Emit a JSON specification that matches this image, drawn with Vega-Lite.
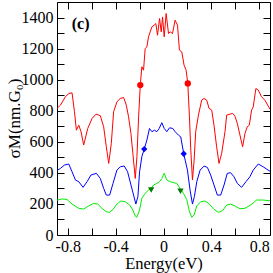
{
  "$schema": "https://vega.github.io/schema/vega-lite/v6.json",
  "width": 213,
  "height": 233,
  "autosize": "none",
  "padding": {"left": 57, "top": 2, "right": 3, "bottom": 38},
  "background": "white",
  "config": {
    "view": {"stroke": "black", "strokeWidth": 1},
    "axis": {"domain": false, "grid": false, "tickColor": "black", "tickSize": -7, "tickWidth": 1,
             "labelFont": "Liberation Serif", "labelFontSize": 16, "labelColor": "black",
             "titleFont": "Liberation Serif", "titleFontSize": 16.5, "titleColor": "black", "titleFontWeight": "normal"}
  },
  "datasets": {
    "curves": [
      {"s":"red","x":-0.89,"y":815},{"s":"red","x":-0.861,"y":836},{"s":"red","x":-0.82,"y":890},{"s":"red","x":-0.79,"y":911},{"s":"red","x":-0.764,"y":915},{"s":"red","x":-0.744,"y":793},{"s":"red","x":-0.728,"y":675},{"s":"red","x":-0.708,"y":707},{"s":"red","x":-0.689,"y":665},{"s":"red","x":-0.667,"y":579},{"s":"red","x":-0.633,"y":686},{"s":"red","x":-0.597,"y":750},{"s":"red","x":-0.564,"y":778},{"s":"red","x":-0.528,"y":768},{"s":"red","x":-0.5,"y":697},{"s":"red","x":-0.478,"y":568},{"s":"red","x":-0.458,"y":461},{"s":"red","x":-0.436,"y":590},{"s":"red","x":-0.417,"y":793},{"s":"red","x":-0.389,"y":858},{"s":"red","x":-0.361,"y":879},{"s":"red","x":-0.333,"y":885},{"s":"red","x":-0.311,"y":836},{"s":"red","x":-0.292,"y":761},{"s":"red","x":-0.272,"y":654},{"s":"red","x":-0.256,"y":525},{"s":"red","x":-0.236,"y":364},{"s":"red","x":-0.222,"y":504},{"s":"red","x":-0.208,"y":761},{"s":"red","x":-0.194,"y":965},{"s":"red","x":-0.181,"y":1083},{"s":"red","x":-0.167,"y":1061},{"s":"red","x":-0.153,"y":1201},{"s":"red","x":-0.139,"y":1211},{"s":"red","x":-0.125,"y":1276},{"s":"red","x":-0.111,"y":1308},{"s":"red","x":-0.097,"y":1340},{"s":"red","x":-0.078,"y":1351},{"s":"red","x":-0.064,"y":1361},{"s":"red","x":-0.05,"y":1286},{"s":"red","x":-0.033,"y":1394},{"s":"red","x":-0.019,"y":1308},{"s":"red","x":-0.008,"y":1404},{"s":"red","x":0.006,"y":1276},{"s":"red","x":0.022,"y":1426},{"s":"red","x":0.042,"y":1297},{"s":"red","x":0.056,"y":1308},{"s":"red","x":0.075,"y":1297},{"s":"red","x":0.097,"y":1383},{"s":"red","x":0.117,"y":1351},{"s":"red","x":0.133,"y":1190},{"s":"red","x":0.153,"y":1179},{"s":"red","x":0.172,"y":1093},{"s":"red","x":0.189,"y":1061},{"s":"red","x":0.203,"y":976},{"s":"red","x":0.217,"y":761},{"s":"red","x":0.228,"y":547},{"s":"red","x":0.242,"y":354},{"s":"red","x":0.256,"y":482},{"s":"red","x":0.269,"y":665},{"s":"red","x":0.292,"y":772},{"s":"red","x":0.319,"y":868},{"s":"red","x":0.339,"y":879},{"s":"red","x":0.361,"y":868},{"s":"red","x":0.381,"y":815},{"s":"red","x":0.403,"y":804},{"s":"red","x":0.422,"y":707},{"s":"red","x":0.444,"y":568},{"s":"red","x":0.464,"y":461},{"s":"red","x":0.486,"y":525},{"s":"red","x":0.514,"y":665},{"s":"red","x":0.528,"y":772},{"s":"red","x":0.556,"y":778},{"s":"red","x":0.578,"y":783},{"s":"red","x":0.597,"y":765},{"s":"red","x":0.617,"y":718},{"s":"red","x":0.639,"y":643},{"s":"red","x":0.661,"y":568},{"s":"red","x":0.681,"y":654},{"s":"red","x":0.7,"y":697},{"s":"red","x":0.717,"y":707},{"s":"red","x":0.736,"y":804},{"s":"red","x":0.75,"y":825},{"s":"red","x":0.772,"y":943},{"s":"red","x":0.792,"y":933},{"s":"red","x":0.819,"y":890},{"s":"red","x":0.847,"y":868},{"s":"red","x":0.89,"y":810},
      {"s":"blue","x":-0.89,"y":415},{"s":"blue","x":-0.861,"y":429},{"s":"blue","x":-0.828,"y":450},{"s":"blue","x":-0.792,"y":457},{"s":"blue","x":-0.764,"y":407},{"s":"blue","x":-0.736,"y":354},{"s":"blue","x":-0.708,"y":343},{"s":"blue","x":-0.672,"y":307},{"s":"blue","x":-0.639,"y":343},{"s":"blue","x":-0.606,"y":386},{"s":"blue","x":-0.561,"y":397},{"s":"blue","x":-0.528,"y":364},{"s":"blue","x":-0.5,"y":300},{"s":"blue","x":-0.478,"y":257},{"s":"blue","x":-0.45,"y":257},{"s":"blue","x":-0.422,"y":332},{"s":"blue","x":-0.389,"y":418},{"s":"blue","x":-0.361,"y":439},{"s":"blue","x":-0.328,"y":444},{"s":"blue","x":-0.3,"y":407},{"s":"blue","x":-0.272,"y":322},{"s":"blue","x":-0.25,"y":257},{"s":"blue","x":-0.231,"y":199},{"s":"blue","x":-0.214,"y":247},{"s":"blue","x":-0.2,"y":407},{"s":"blue","x":-0.181,"y":504},{"s":"blue","x":-0.161,"y":553},{"s":"blue","x":-0.139,"y":611},{"s":"blue","x":-0.117,"y":686},{"s":"blue","x":-0.097,"y":665},{"s":"blue","x":-0.075,"y":675},{"s":"blue","x":-0.056,"y":665},{"s":"blue","x":-0.036,"y":686},{"s":"blue","x":-0.014,"y":723},{"s":"blue","x":0.006,"y":686},{"s":"blue","x":0.028,"y":665},{"s":"blue","x":0.05,"y":690},{"s":"blue","x":0.078,"y":686},{"s":"blue","x":0.097,"y":665},{"s":"blue","x":0.125,"y":643},{"s":"blue","x":0.144,"y":632},{"s":"blue","x":0.169,"y":523},{"s":"blue","x":0.181,"y":482},{"s":"blue","x":0.2,"y":418},{"s":"blue","x":0.222,"y":289},{"s":"blue","x":0.242,"y":199},{"s":"blue","x":0.258,"y":247},{"s":"blue","x":0.278,"y":343},{"s":"blue","x":0.306,"y":418},{"s":"blue","x":0.339,"y":444},{"s":"blue","x":0.367,"y":435},{"s":"blue","x":0.394,"y":386},{"s":"blue","x":0.422,"y":322},{"s":"blue","x":0.45,"y":257},{"s":"blue","x":0.478,"y":257},{"s":"blue","x":0.506,"y":322},{"s":"blue","x":0.533,"y":397},{"s":"blue","x":0.561,"y":401},{"s":"blue","x":0.589,"y":375},{"s":"blue","x":0.617,"y":332},{"s":"blue","x":0.653,"y":307},{"s":"blue","x":0.689,"y":343},{"s":"blue","x":0.722,"y":375},{"s":"blue","x":0.75,"y":418},{"s":"blue","x":0.792,"y":457},{"s":"blue","x":0.833,"y":439},{"s":"blue","x":0.89,"y":410},
      {"s":"green","x":-0.89,"y":225},{"s":"green","x":-0.847,"y":232},{"s":"green","x":-0.806,"y":229},{"s":"green","x":-0.764,"y":199},{"s":"green","x":-0.708,"y":172},{"s":"green","x":-0.667,"y":167},{"s":"green","x":-0.625,"y":187},{"s":"green","x":-0.583,"y":204},{"s":"green","x":-0.55,"y":199},{"s":"green","x":-0.514,"y":172},{"s":"green","x":-0.478,"y":150},{"s":"green","x":-0.45,"y":146},{"s":"green","x":-0.422,"y":165},{"s":"green","x":-0.389,"y":199},{"s":"green","x":-0.356,"y":219},{"s":"green","x":-0.319,"y":214},{"s":"green","x":-0.283,"y":193},{"s":"green","x":-0.256,"y":161},{"s":"green","x":-0.236,"y":122},{"s":"green","x":-0.222,"y":114},{"s":"green","x":-0.2,"y":161},{"s":"green","x":-0.181,"y":236},{"s":"green","x":-0.153,"y":268},{"s":"green","x":-0.125,"y":289},{"s":"green","x":-0.103,"y":300},{"s":"green","x":-0.083,"y":322},{"s":"green","x":-0.056,"y":332},{"s":"green","x":-0.033,"y":343},{"s":"green","x":-0.014,"y":364},{"s":"green","x":0.006,"y":397},{"s":"green","x":0.028,"y":354},{"s":"green","x":0.056,"y":343},{"s":"green","x":0.083,"y":337},{"s":"green","x":0.111,"y":332},{"s":"green","x":0.139,"y":300},{"s":"green","x":0.167,"y":268},{"s":"green","x":0.194,"y":229},{"s":"green","x":0.217,"y":150},{"s":"green","x":0.236,"y":114},{"s":"green","x":0.256,"y":129},{"s":"green","x":0.278,"y":187},{"s":"green","x":0.311,"y":214},{"s":"green","x":0.347,"y":219},{"s":"green","x":0.383,"y":199},{"s":"green","x":0.422,"y":165},{"s":"green","x":0.458,"y":146},{"s":"green","x":0.494,"y":157},{"s":"green","x":0.528,"y":193},{"s":"green","x":0.561,"y":199},{"s":"green","x":0.597,"y":187},{"s":"green","x":0.639,"y":169},{"s":"green","x":0.681,"y":172},{"s":"green","x":0.728,"y":193},{"s":"green","x":0.778,"y":225},{"s":"green","x":0.833,"y":225},{"s":"green","x":0.89,"y":220}
    ],
    "markers": [
      {"s":"red","x":-0.194,"y":965},{"s":"red","x":0.203,"y":976},
      {"s":"blue","x":-0.161,"y":553},{"s":"blue","x":0.169,"y":523},
      {"s":"green","x":-0.103,"y":290},{"s":"green","x":0.142,"y":282}
    ],
    "label": [{"x":-0.693,"y":1357,"t":"(c)"}]
  },
  "layer": [
    {
      "data": {"name": "curves"},
      "mark": {"type": "line", "strokeWidth": 1, "clip": true},
      "encoding": {
        "x": {"field": "x", "type": "quantitative", "scale": {"domain": [-0.89, 0.89], "nice": false, "zero": false},
              "axis": {"orient": "bottom", "title": "Energy(eV)", "values": [-0.8,-0.6,-0.4,-0.2,0,0.2,0.4,0.6,0.8],
                       "labelExpr": "round(datum.value*10)%4===0 ? toString(datum.value) : ''", "labelPadding": 10,
                       "titleY": 33, "titleBaseline": "alphabetic"}},
        "y": {"field": "y", "type": "quantitative", "scale": {"domain": [0, 1500], "nice": false},
              "axis": {"orient": "left", "title": "σM(nm.G₀)", "values": [0,100,200,300,400,500,600,700,800,900,1000,1100,1200,1300,1400,1500],
                       "labelExpr": "datum.value%200===0 ? datum.label : ''", "labelPadding": 11, "format": "d",
                       "titleFontSize": 17, "titleX": -43, "titleY": 116, "titleBaseline": "middle", "titleAlign": "center", "titleAngle": -90}},
        "color": {"field": "s", "type": "nominal", "scale": {"domain": ["red","blue","green"], "range": ["#ff0000","#0000ff","#00ee00"]}, "legend": null},
        "detail": {"field": "s"}
      }
    },
    {
      "data": {"name": "markers"},
      "mark": {"type": "point", "filled": true, "opacity": 1},
      "encoding": {
        "x": {"field": "x", "type": "quantitative", "axis": {"orient": "top", "title": null, "labels": false, "values": [-0.8,-0.6,-0.4,-0.2,0,0.2,0.4,0.6,0.8]}},
        "y": {"field": "y", "type": "quantitative", "axis": {"orient": "right", "title": null, "labels": false, "values": [0,100,200,300,400,500,600,700,800,900,1000,1100,1200,1300,1400,1500]}},
        "shape": {"field": "s", "type": "nominal", "scale": {"domain": ["red","blue","green"], "range": ["circle","diamond","triangle-down"]}, "legend": null},
        "color": {"field": "s", "type": "nominal", "scale": {"domain": ["red","blue","green"], "range": ["#ff0000","#0000ff","#007a00"]}, "legend": null},
        "size": {"value": 40}
      }
    },
    {
      "data": {"name": "label"},
      "mark": {"type": "text", "font": "Liberation Serif", "fontSize": 16, "fontWeight": "bold", "align": "center", "baseline": "middle", "color": "black"},
      "encoding": {
        "x": {"field": "x", "type": "quantitative", "axis": null},
        "y": {"field": "y", "type": "quantitative", "axis": null},
        "text": {"field": "t"}
      }
    }
  ],
  "resolve": {"axis": {"x": "independent", "y": "independent"}, "scale": {"color": "independent"}}
}
